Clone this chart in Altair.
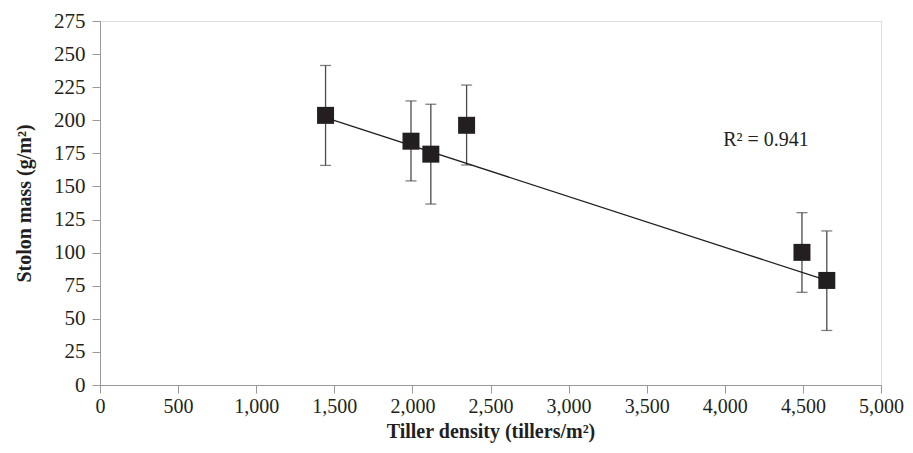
import altair as alt
import pandas as pd

# Data
tiller_density = [1444, 1991, 2118, 2347, 4494, 4653]
stolon_mass = [203.7, 184.2, 174.4, 196.2, 100.2, 79.0]
err_low = [165.9, 154.2, 136.7, 166.2, 70.0, 41.2]
err_high = [241.4, 214.6, 212.1, 226.6, 130.2, 116.4]

trend_x = [1444, 4653]
trend_y = [202.0, 79.0]

r2_label = ["R² = 0.941"]
r2_x = [3990]
r2_y = [185]

x_ticks = list(range(0, 5001, 500))
y_ticks = list(range(0, 276, 25))

df = pd.DataFrame({"x": tiller_density, "y": stolon_mass, "lo": err_low, "hi": err_high})
trend = pd.DataFrame({"x": trend_x, "y": trend_y})
lab = pd.DataFrame({"x": r2_x, "y": r2_y, "t": r2_label})

FONT = "Liberation Serif"
INK = "#231f20"

xscale = alt.Scale(domain=[0, 5000], nice=False, zero=True)
yscale = alt.Scale(domain=[0, 275], nice=False, zero=True)

xaxis = alt.Axis(values=x_ticks, format=",.0f", title="Tiller density (tillers/m²)",
                 grid=False, domainColor="#999999", tickColor="#999999",
                 tickSize=8, labelPadding=3, titlePadding=5,
                 labelFlush=False, labelOverlap=False,
                 labelFont=FONT, labelFontSize=20, labelColor=INK,
                 titleFont=FONT, titleFontSize=20, titleFontWeight="bold",
                 titleColor=INK)
yaxis = alt.Axis(values=y_ticks, format="d", title="Stolon mass (g/m²)",
                 grid=False, domainColor="#999999", tickColor="#999999",
                 tickSize=8, labelPadding=7, titlePadding=19,
                 labelFlush=False, labelOverlap=False,
                 labelFont=FONT, labelFontSize=21, labelColor=INK,
                 titleFont=FONT, titleFontSize=20, titleFontWeight="bold",
                 titleColor=INK)


def X(field="x"):
    return alt.X(f"{field}:Q", scale=xscale, axis=xaxis)


def Y(field="y"):
    return alt.Y(f"{field}:Q", scale=yscale, axis=yaxis)


base = alt.Chart(df)

err = base.mark_rule(color="#4a4a4a", strokeWidth=1.3).encode(
    x=X(), y=Y("lo"), y2="hi:Q")
cap_lo = base.mark_tick(color="#4a4a4a", orient="horizontal", size=11, thickness=1.3).encode(
    x=X(), y=Y("lo"))
cap_hi = base.mark_tick(color="#4a4a4a", orient="horizontal", size=11, thickness=1.3).encode(
    x=X(), y=Y("hi"))

line = alt.Chart(trend).mark_line(color=INK, strokeWidth=1.3).encode(x=X(), y=Y())

pts = base.mark_square(color=INK, opacity=1, size=289).encode(x=X(), y=Y())

txt = alt.Chart(lab).mark_text(align="left", baseline="middle", font=FONT,
                               fontSize=20, color=INK).encode(
    x=X(), y=Y(), text="t:N")

chart = alt.layer(err, cap_lo, cap_hi, line, pts, txt).properties(
    width=781, height=364,
    autosize=alt.AutoSizeParams(type="none"),
    padding={"left": 92, "top": 13, "right": 24, "bottom": 60},
).configure_view(stroke=None).configure(background="white")

chart.save("out.html", embed_options={"renderer": "svg", "actions": False})
